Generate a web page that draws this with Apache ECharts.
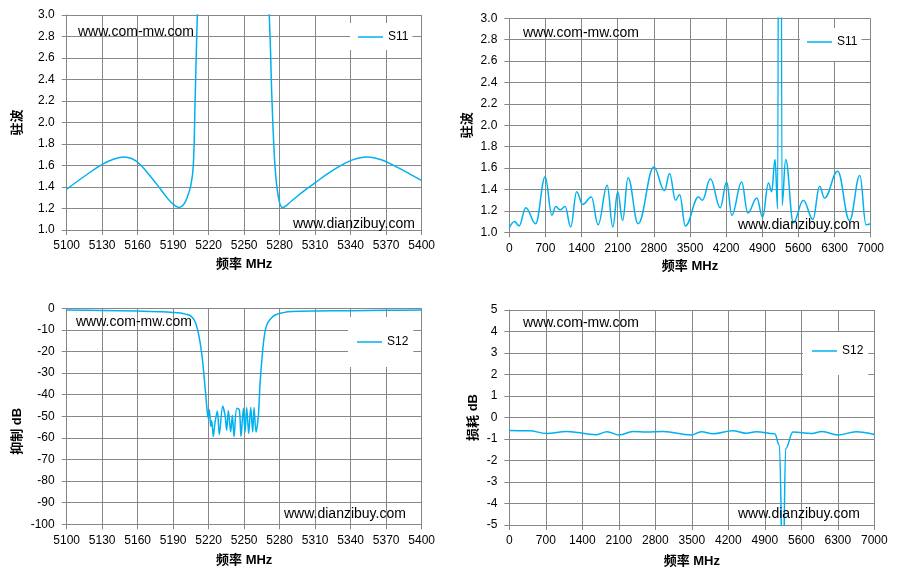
<!DOCTYPE html>
<html>
<head>
<meta charset="utf-8">
<script src="https://cdn.jsdelivr.net/npm/echarts@6/dist/echarts.min.js"></script>
<style>
html,body{margin:0;padding:0;background:#fff;}
#chart{width:897px;height:580px;}
</style>
</head>
<body>
<div id="chart"></div>
<script>
// ---------- DATA ----------
// Chart 1: S11 VSWR, 5100-5400 MHz
const s11NarrowFreq = [5100,5115,5130,5140,5148,5155,5162,5170,5180,5188,5195,5199,5202,5205,5207,5208.5,5210,5211,5213,5240,5268,5270.5,5272,5273.5,5276,5279,5282.5,5290,5300,5310,5320,5330,5340,5353,5362,5370,5380,5390,5400];
const s11NarrowVswr = [1.38,1.50,1.61,1.66,1.68,1.665,1.61,1.51,1.37,1.26,1.21,1.24,1.31,1.42,1.60,2.2,2.85,3.2,4.0,12,4.0,3.2,2.75,2.2,1.6,1.3,1.21,1.27,1.36,1.44,1.52,1.59,1.645,1.68,1.665,1.635,1.58,1.52,1.46];

// Chart 2: S11 VSWR, 0-7000 MHz
const s11WideFreq = [0,100,190,320,510,695,825,900,985,1080,1190,1305,1420,1590,1720,1895,2005,2100,2195,2300,2495,2800,3005,3105,3220,3300,3410,3665,3740,3895,4085,4210,4310,4500,4620,4795,4905,5020,5082,5147,5198,5240,5282,5353,5502,5695,5880,6010,6105,6360,6590,6790,6910,7000];
const s11WideVswr = [1.04,1.10,1.06,1.23,1.08,1.52,1.16,1.24,1.21,1.24,1.05,1.38,1.26,1.33,1.07,1.44,1.05,1.38,1.11,1.51,1.08,1.61,1.39,1.55,1.30,1.35,1.06,1.33,1.30,1.50,1.23,1.47,1.16,1.47,1.18,1.32,1.14,1.46,1.38,1.68,1.22,12,1.25,1.68,1.09,1.30,1.12,1.43,1.32,1.57,1.11,1.53,1.07,1.08];

// Chart 3: S12 rejection dB, 5100-5400 MHz
const s12NarrowFreq = [5100,5130,5160,5180,5190,5196,5201,5205,5208.5,5211.3,5214.1,5216.9,5218.9,5219.7,5220.6,5221.7,5222.5,5223.9,5225.3,5227.3,5229.0,5231.8,5233.8,5235.2,5236.6,5238.6,5240,5241.4,5243.7,5245.9,5247.3,5249.3,5250.7,5252.1,5253.8,5255.5,5257.2,5258.3,5260,5262.0,5263.4,5266.2,5268.5,5271.3,5276.1,5283.2,5290,5310,5340,5370,5400];
const s12NarrowDb = [-0.8,-1.0,-1.3,-1.6,-1.9,-2.2,-2.8,-3.6,-6.2,-11.6,-20.8,-36.3,-48.6,-50.9,-47,-54.7,-52,-59.4,-53,-47.6,-58.5,-45.4,-49.5,-56.5,-47.3,-57.3,-49.5,-59.4,-46.3,-47,-59.4,-46.3,-57.3,-45.9,-58.0,-45.9,-57.3,-45.9,-57.3,-49.5,-34.8,-16.3,-8.6,-5.5,-3.1,-2.0,-1.5,-1.25,-1.1,-0.95,-0.8];

// Chart 4: S12 loss dB, 0-7000 MHz
const s12WideFreq = [0,380,715,1100,1672,1876,2106,2374,2629,2948,3490,3682,3905,4288,4543,4735,5090,5180,5248,5300,5440,5800,6000,6300,6650,7000];
const s12WideDb = [-0.61,-0.62,-0.74,-0.65,-0.80,-0.66,-0.815,-0.65,-0.68,-0.65,-0.815,-0.66,-0.76,-0.62,-0.73,-0.66,-0.76,-1.3,-8,-1.45,-0.68,-0.74,-0.65,-0.815,-0.66,-0.79];

const seriesNames = ['S11','S11','S12','S12'];
const xAxisTitle = '频率 MHz';
const yAxisTitles = ['驻波','驻波','抑制 dB','损耗 dB'];
const watermarkTop = 'www.com-mw.com';
const watermarkBottom = 'www.dianzibuy.com';

// ---------- STYLE ----------
const FONT = "'Liberation Sans', Arial, 'Noto Sans CJK SC', sans-serif";
const GRAY = '#878787';
const LINE = '#00B0F0';

function pairs(xs, ys){ return xs.map((x,i)=>[x, ys[i]]); }

const f1 = v => v.toFixed(1);
const f0 = v => String(Math.round(v));

function mkX(gi, min, max, interval, gap){
  return {
    type:'value', gridIndex:gi, min:min, max:max, interval:interval,
    name:xAxisTitle, nameLocation:'middle', nameGap:gap,
    nameTextStyle:{fontWeight:'bold', fontSize:13, color:'#000', fontFamily:FONT},
    axisLine:{show:true, onZero:false, lineStyle:{color:GRAY, width:1}},
    axisTick:{show:true, length:5, inside:false, lineStyle:{color:GRAY}},
    axisLabel:{color:'#000', fontSize:12, margin:10, fontFamily:FONT, formatter:f0, showMinLabel:true, showMaxLabel:true},
    splitLine:{show:true, lineStyle:{color:GRAY, width:1}}
  };
}
function mkY(gi, min, max, interval, name, gap, fmt, pad){
  return {
    type:'value', gridIndex:gi, min:min, max:max, interval:interval,
    name:name, nameLocation:'middle', nameGap:gap, nameRotate:90,
    nameTextStyle:{fontWeight:'bold', fontSize:13, color:'#000', fontFamily:FONT, padding:pad||0},
    axisLine:{show:true, onZero:false, lineStyle:{color:GRAY, width:1}},
    axisTick:{show:true, length:5, inside:false, lineStyle:{color:GRAY}},
    axisLabel:{color:'#000', fontSize:12, margin:12, fontFamily:FONT, formatter:fmt, showMinLabel:true, showMaxLabel:true},
    splitLine:{show:true, lineStyle:{color:GRAY, width:1}}
  };
}
function mkSeries(name, gi, data, smooth, mono){
  const s = {
    type:'line', name:name, xAxisIndex:gi, yAxisIndex:gi, data:data,
    showSymbol:false, symbol:'none', smooth:smooth, clip:true,
    lineStyle:{color:LINE, width:1.5}, itemStyle:{color:LINE},
    animation:false
  };
  if (mono) s.smoothMonotone = mono;
  return s;
}
function mkLegend(name, left, top, pad){
  return {
    data:[{name:name, icon:'rect'}], left:left, top:top, orient:'vertical',
    backgroundColor:'#fff', padding:pad, itemWidth:25, itemHeight:1.5, itemGap:4,
    itemStyle:{color:LINE, borderWidth:0},
    textStyle:{color:'#000', fontSize:12, fontFamily:FONT, lineHeight:14, padding:[0,0,0,0]},
    selectedMode:false
  };
}
function wm(text, x, y){
  return {type:'text', x:x, y:y, z:100,
    style:{text:text, fill:'#000', font:"14px 'Liberation Sans', Arial, sans-serif",
      textAlign:'left', textVerticalAlign:'middle', align:'left', verticalAlign:'middle'}};
}

const option = {
  backgroundColor:'#fff',
  animation:false,
  grid:[
    {left:66.7, top:15, width:355, height:215, containLabel:false},
    {left:509.3, top:18.3, width:361.4, height:214, containLabel:false},
    {left:66.7, top:308.3, width:355, height:216, containLabel:false},
    {left:509.3, top:310, width:365, height:215, containLabel:false}
  ],
  xAxis:[
    mkX(0, 5100, 5400, 30, 28),
    mkX(1, 0, 7000, 700, 28),
    mkX(2, 5100, 5400, 30, 30),
    mkX(3, 0, 7000, 700, 30)
  ],
  yAxis:[
    mkY(0, 1.0, 3.0, 0.2, yAxisTitles[0], 43, f1),
    mkY(1, 1.0, 3.0, 0.2, yAxisTitles[1], 35, f1),
    mkY(2, -100, 0, 10, yAxisTitles[2], 43, f0, [0,30,0,0]),
    mkY(3, -5, 5, 1, yAxisTitles[3], 29, f0)
  ],
  legend:[
    mkLegend(seriesNames[0], 350, 23, [7,4,6,8]),
    mkLegend(seriesNames[1], 800, 28, [7,4,12,7]),
    mkLegend(seriesNames[2], 348, 317, [18,5,18,9]),
    mkLegend(seriesNames[3], 803, 332, [12,5,17,9])
  ],
  series:[
    mkSeries(seriesNames[0], 0, pairs(s11NarrowFreq, s11NarrowVswr), 0.4),
    mkSeries(seriesNames[1], 1, pairs(s11WideFreq, s11WideVswr), 0.4, 'x'),
    mkSeries(seriesNames[2], 2, pairs(s12NarrowFreq, s12NarrowDb), 0.3),
    mkSeries(seriesNames[3], 3, pairs(s12WideFreq, s12WideDb), 0.4, 'x')
  ],
  graphic:[
    wm(watermarkTop, 78, 32), wm(watermarkBottom, 293, 224),
    wm(watermarkTop, 523, 33), wm(watermarkBottom, 738, 225),
    wm(watermarkTop, 76, 322), wm(watermarkBottom, 284, 514),
    wm(watermarkTop, 523, 323), wm(watermarkBottom, 738, 514)
  ]
};

const chart = echarts.init(document.getElementById('chart'));
chart.setOption(option);
</script>
</body>
</html>
